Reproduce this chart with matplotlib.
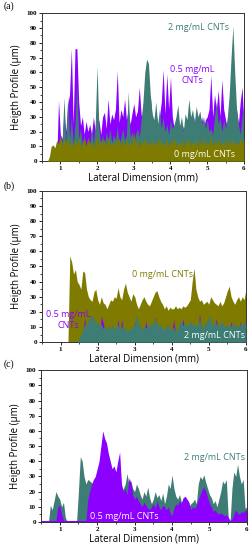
import numpy as np
import matplotlib
matplotlib.use("Agg")
import matplotlib.pyplot as plt
from matplotlib.ticker import MultipleLocator

plt.rcParams['font.family'] = ['Open Sans', 'DejaVu Sans']

STEP = 0.05  # mm between profile samples

# ---- panel (a): profiles sampled every 0.05 mm, starting at given x ----
a_olive_x0 = 0.5
a_olive = [0, 0, 0, 0, 3, 10, 11, 9, 14, 12, 18,
           10, 15, 12, 16, 10, 14, 9, 15, 11, 16,
           9, 13, 15, 10, 16, 11, 14, 9, 13, 17,
           10, 14, 12, 15, 9, 16, 11, 13, 10, 15,
           12, 16, 9, 14, 11, 15, 10, 13, 12, 20,
           11, 15, 9, 14, 12, 16, 10, 13, 11, 15,
           9, 14, 12, 16, 10, 13, 11, 15, 9, 14,
           12, 16, 10, 13, 11, 15, 9, 14, 12, 16,
           10, 13, 11, 15, 9, 14, 12, 16, 10, 13,
           11, 17, 9, 14, 12, 15, 10, 13, 11, 16,
           9, 14, 12, 15, 10, 13, 11, 16, 12, 15]

a_teal_x0 = 1.0
a_teal = [8, 15, 43, 12, 44, 15, 30, 12, 25, 52, 15,
          22, 10, 18, 10, 16, 12, 22, 12, 25, 64,
          22, 12, 18, 10, 20, 14, 22, 12, 18, 14,
          24, 12, 16, 22, 14, 18, 47, 16, 20, 12,
          18, 22, 16, 28, 40, 60, 69, 66, 45, 32,
          28, 40, 25, 35, 22, 30, 20, 25, 18, 28,
          22, 25, 30, 38, 24, 30, 20, 32, 28, 42,
          30, 35, 26, 37, 30, 34, 25, 30, 22, 28,
          20, 22, 18, 30, 40, 25, 30, 20, 28, 22,
          30, 45, 70, 91, 60, 35, 25, 18, 30, 38]

a_purple_x0 = 0.9
a_purple = [0, 41, 18, 15, 32, 20, 38, 45, 76, 25, 76, 76, 40,
            24, 30, 18, 27, 20, 25, 18, 30, 20, 24,
            28, 18, 30, 33, 22, 42, 25, 32, 28, 35,
            61, 26, 35, 30, 42, 28, 35, 25, 32, 39,
            30, 34, 50, 32, 25, 35, 28, 32, 44, 30,
            25, 35, 24, 30, 40, 62, 32, 59, 35, 57,
            30, 22, 28, 20, 25, 18, 24, 20, 28, 22,
            26, 20, 30, 22, 28, 25, 30, 22, 28, 30,
            35, 58, 30, 45, 35, 48, 30, 55, 35, 28,
            22, 30, 25, 20, 28, 35, 25, 40, 50, 25]

# ---- panel (b) ----
b_olive_x0 = 1.2
b_olive = [0, 57, 53, 45, 48, 40, 38, 35, 47, 46, 35,
           30, 28, 27, 33, 35, 28, 25, 30, 26, 25,
           22, 25, 28, 27, 30, 29, 36, 30, 28, 35,
           39, 33, 30, 27, 32, 30, 25, 22, 25, 28,
           30, 27, 25, 24, 27, 30, 33, 34, 30, 27,
           25, 22, 24, 21, 23, 22, 22, 24, 22, 23,
           22, 24, 23, 24, 26, 28, 40, 49, 35, 30,
           27, 28, 25, 26, 27, 25, 30, 28, 26, 25,
           24, 27, 24, 26, 30, 34, 37, 30, 27, 25,
           28, 30, 27, 30, 28, 35]

b_teal_x0 = 1.45
b_teal = [0, 3, 5, 8, 12, 10, 15, 16, 18, 15, 12,
          14, 10, 12, 9, 10, 8, 11, 9, 12, 8,
          10, 12, 9, 11, 8, 10, 7, 9, 8, 10,
          12, 18, 13, 10, 8, 11, 9, 12, 10, 13,
          11, 15, 13, 10, 12, 9, 8, 10, 12, 9,
          8, 10, 7, 9, 12, 14, 11, 13, 10, 12,
          14, 11, 13, 10, 12, 15, 11, 9, 12, 14,
          18, 13, 11, 14, 12, 10, 12, 14, 11, 10,
          12, 9, 11, 13, 10, 12, 10, 12, 11, 13, 12]

b_purple_x0 = 1.6
b_purple = [5, 16, 5, 5, 5, 5, 5, 5, 5, 5, 17,
            13, 5, 5, 5, 5, 5, 5, 5, 15, 5,
            15, 5, 5, 5, 5, 5, 5, 14, 5, 5,
            5, 5, 5, 14, 5, 5, 5, 5, 17, 5,
            5, 5, 5, 5, 5, 5, 5, 5, 15, 5,
            5, 5, 5, 16, 5, 5, 5, 5, 5, 5,
            5, 5, 19, 5, 5, 5, 5, 5, 5, 5,
            5, 16, 5, 5, 5, 5, 5, 5, 5, 14,
            5, 5, 5, 5, 14, 5, 5, 5]

# ---- panel (c) ----
c_teal_x0 = 0.7
c_teal = [0, 11, 8, 14, 20, 17, 15, 10, 13, 3, 0,
          0, 0, 0, 0, 0, 20, 43, 40, 30, 25,
          28, 27, 26, 20, 22, 25, 25, 25, 25, 25,
          25, 25, 25, 25, 25, 25, 25, 20, 21, 22,
          25, 32, 24, 27, 22, 20, 25, 22, 18, 15,
          20, 17, 23, 16, 12, 15, 20, 16, 18, 14,
          19, 12, 17, 25, 22, 31, 22, 17, 15, 18,
          13, 16, 12, 15, 10, 12, 13, 15, 12, 25,
          30, 28, 31, 26, 22, 18, 16, 12, 14, 10,
          15, 20, 27, 25, 28, 3, 0, 22, 33, 30,
          38, 30, 25, 28, 9, 10]

c_purple_x0 = 0.5
c_purple = [1, 1, 1, 1, 1, 1, 1, 1, 1, 10, 11,
            5, 1, 1, 1, 1, 1, 1, 1, 1, 1,
            1, 1, 1, 1, 15, 20, 25, 28, 30, 35,
            40, 50, 60, 55, 52, 45, 40, 35, 37, 33,
            40, 46, 25, 20, 22, 18, 29, 26, 18, 15,
            17, 14, 12, 10, 13, 11, 9, 8, 10, 12,
            9, 14, 10, 8, 11, 10, 8, 10, 6, 4,
            9, 12, 11, 14, 12, 16, 17, 15, 13, 8,
            10, 9, 11, 15, 18, 21, 23, 20, 16, 12,
            10, 7, 8, 6, 5, 6, 5, 4, 5, 3,
            1, 2, 5, 8, 6, 5, 7, 6, 8, 7]

PURPLE = '#8b00ff'
TEAL = '#3e7c76'
OLIVE = '#7f7b00'


def xs(x0, ys):
    return x0 + STEP * np.arange(len(ys))


def style_axes(ax):
    ax.set_xlim(0.5, 6)
    ax.set_ylim(0, 100)
    ax.xaxis.set_major_locator(MultipleLocator(1))
    ax.xaxis.set_minor_locator(MultipleLocator(0.5))
    ax.yaxis.set_major_locator(MultipleLocator(10))
    ax.yaxis.set_minor_locator(MultipleLocator(5))
    ax.tick_params(which='major', length=2.2, width=0.6, labelsize=5, pad=1.5)
    ax.tick_params(which='minor', length=1.2, width=0.5)
    for lab in ax.get_xticklabels() + ax.get_yticklabels():
        lab.set_fontweight('bold')
        lab.set_family('Liberation Serif')
    for sp in ax.spines.values():
        sp.set_linewidth(0.7)
        sp.set_color('#333333')
    ax.set_xlabel('Lateral Dimension (mm)', fontsize=7, labelpad=1)
    ax.set_ylabel('Heigth Profile (μm)', fontsize=7, labelpad=3)


fig = plt.figure(figsize=(2.53, 5.5), dpi=100)
ax_a = fig.add_axes([0.166, 0.707, 0.798, 0.269])
ax_b = fig.add_axes([0.166, 0.378, 0.806, 0.275])
ax_c = fig.add_axes([0.162, 0.051, 0.814, 0.276])

# (a)
ax_a.fill_between(xs(a_purple_x0, a_purple), a_purple, color=PURPLE, lw=0, zorder=1)
ax_a.fill_between(xs(a_teal_x0, a_teal), a_teal, color=TEAL, lw=0, zorder=2)
ax_a.fill_between(xs(a_olive_x0, a_olive), a_olive, color=OLIVE, lw=0, zorder=3)
ax_a.text(4.75, 90.5, '2 mg/mL CNTs', color=TEAL, fontsize=6.5, ha='center', va='center', zorder=5)
ax_a.text(4.6, 58, '0.5 mg/mL\nCNTs', color=PURPLE, fontsize=6.5, ha='center', va='center',
          linespacing=1.3, zorder=5)
ax_a.text(4.94, 4.7, '0 mg/mL CNTs', color='white', fontsize=6.5, ha='center', va='center', zorder=5)
style_axes(ax_a)

# (b)
ax_b.fill_between(xs(b_olive_x0, b_olive), b_olive, color=OLIVE, lw=0, zorder=1)
ax_b.fill_between(xs(b_purple_x0, b_purple), b_purple, color=PURPLE, lw=0, zorder=2)
ax_b.fill_between(xs(b_teal_x0, b_teal), b_teal, color=TEAL, lw=0, zorder=3)
ax_b.text(3.74, 45, '0 mg/mL CNTs', color=OLIVE, fontsize=6.5, ha='center', va='center', zorder=5)
ax_b.text(1.2, 14.5, '0.5 mg/mL\nCNTs', color=PURPLE, fontsize=6.5, ha='center', va='center',
          linespacing=1.3, zorder=5)
ax_b.text(5.15, 4.6, '2 mg/mL CNTs', color='white', fontsize=6.5, ha='center', va='center', zorder=5)
style_axes(ax_b)

# (c)
ax_c.fill_between(xs(c_teal_x0, c_teal), c_teal, color=TEAL, lw=0, zorder=1)
ax_c.fill_between(xs(c_purple_x0, c_purple), c_purple, color=PURPLE, lw=0, zorder=2)
ax_c.text(5.14, 42.7, '2 mg/mL CNTs', color=TEAL, fontsize=6.5, ha='center', va='center', zorder=5)
ax_c.text(2.73, 3.3, '0.5 mg/mL CNTs', color='white', fontsize=6.5, ha='center', va='center', zorder=5)
style_axes(ax_c)

fig.text(0.016, 0.988, '(a)', family='Liberation Serif', fontsize=7, va='center')
fig.text(0.016, 0.662, '(b)', family='Liberation Serif', fontsize=7, va='center')
fig.text(0.016, 0.337, '(c)', family='Liberation Serif', fontsize=7, va='center')

fig.savefig('out.png', dpi=100)
